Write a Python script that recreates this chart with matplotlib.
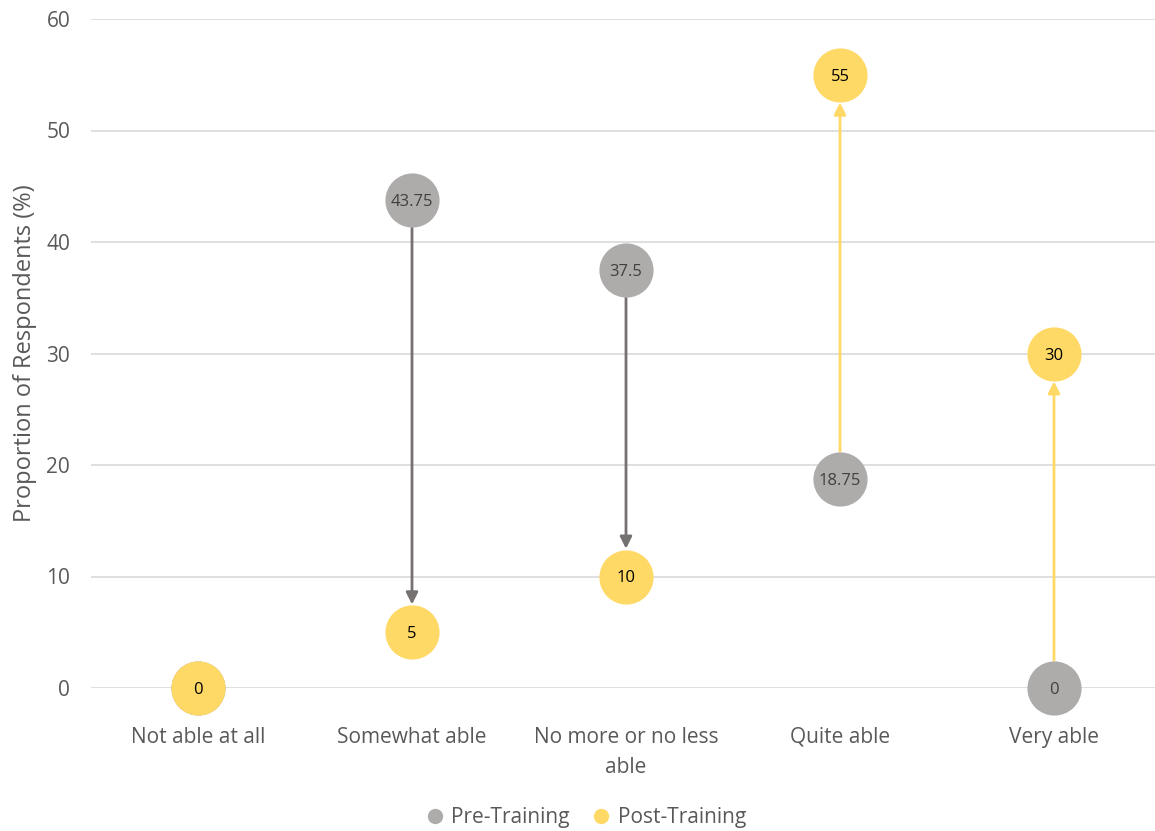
import matplotlib
matplotlib.use("Agg")
import matplotlib.pyplot as plt
from matplotlib.lines import Line2D

categories = ["Not able at all", "Somewhat able", "No more or no less\nable", "Quite able", "Very able"]
pre_training = [0, 43.75, 37.5, 18.75, 0]
post_training = [0, 5, 10, 55, 30]
pre_labels = ["0", "43.75", "37.5", "18.75", "0"]
post_labels = ["0", "5", "10", "55", "30"]
y_ticks = [0, 10, 20, 30, 40, 50, 60]

plt.rcParams['font.family'] = ['Open Sans', 'DejaVu Sans']

PRE_C = "#AEABAB"
POST_C = "#FFD966"
DOWN_ARROW = "#767171"
TXT = "#595959"

fig = plt.figure(figsize=(11.55, 8.31), dpi=100)
ax = fig.add_axes([91/1155, 1-688/831, (1161-91)/1155, (688-19)/831])

x = list(range(len(categories)))
ax.set_xlim(-0.5, 4.5)
ax.set_ylim(0, 60)
ax.set_yticks(y_ticks)
ax.set_yticklabels([str(t) for t in y_ticks])
ax.set_xticks(x)
ax.set_xticklabels(categories, linespacing=1.55)
ax.grid(axis='y', color="#D9D9D9", linewidth=1.2, zorder=0)
ax.set_axisbelow(True)
for s in ax.spines.values():
    s.set_visible(False)
ax.tick_params(axis='both', length=0, labelsize=15, colors=TXT)
ax.tick_params(axis='x', pad=28)
ax.tick_params(axis='y', pad=15)
ax.set_ylabel("Proportion of Respondents (%)", fontsize=17, color=TXT, labelpad=7)

# arrows
for xi, a, b in zip(x, pre_training, post_training):
    if a == b:
        continue
    col = DOWN_ARROW if b < a else POST_C
    ax.annotate("", xy=(xi, b), xytext=(xi, a),
                arrowprops=dict(arrowstyle="-|>,head_length=0.7,head_width=0.35", color=col, lw=2,
                                shrinkA=20, shrinkB=20),
                zorder=2, annotation_clip=False)

ms = 38
ax.plot(x, pre_training, linestyle='none', marker='o', markersize=ms, color=PRE_C, zorder=3, clip_on=False)
ax.plot(x, post_training, linestyle='none', marker='o', markersize=ms, color=POST_C, zorder=4, clip_on=False)

for xi, v, lab in zip(x, pre_training, pre_labels):
    if xi == 0:
        continue
    ax.text(xi, v, lab, ha='center', va='center_baseline', fontsize=12, color="#404040", zorder=5)
for xi, v, lab in zip(x, post_training, post_labels):
    ax.text(xi, v, lab, ha='center', va='center_baseline', fontsize=12, color="#000000", zorder=6)

handles = [Line2D([], [], linestyle='none', marker='o', markersize=10, color=PRE_C),
           Line2D([], [], linestyle='none', marker='o', markersize=10, color=POST_C)]
leg = fig.legend(handles, ["Pre-Training", "Post-Training"], loc='center', bbox_to_anchor=(585/1155, 1-818/831),
                 ncol=2, frameon=False, fontsize=15, handletextpad=0.3, columnspacing=1.0, handlelength=1.0)
for t in leg.get_texts():
    t.set_color(TXT)

fig.savefig("out.png", dpi=100)
